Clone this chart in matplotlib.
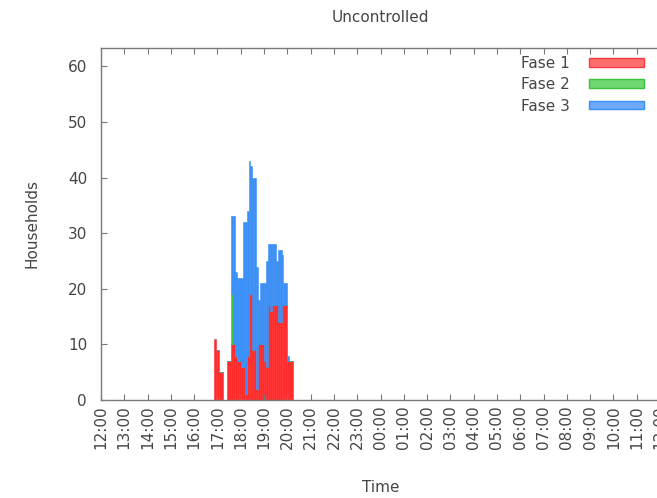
import matplotlib
matplotlib.use("Agg")
import matplotlib.pyplot as plt
from matplotlib.patches import Patch
import numpy as np

# Start of each 5-minute bin, as "HH:MM"
bin_starts = ["16:50", "16:55", "17:00", "17:05", "17:10", "17:15", "17:20",
              "17:25", "17:30", "17:35", "17:40", "17:45", "17:50", "17:55",
              "18:00", "18:05", "18:10", "18:15", "18:20", "18:25", "18:30",
              "18:35", "18:40", "18:45", "18:50", "18:55", "19:00", "19:05",
              "19:10", "19:15", "19:20", "19:25", "19:30", "19:35", "19:40",
              "19:45", "19:50", "19:55", "20:00", "20:05", "20:10"]

# Households charging per phase in each bin
fase1 = [11, 9, 9, 5, 5, 0, 0, 7, 7, 10, 10, 8, 7, 7, 6, 6, 1, 8, 19, 19, 9,
         9, 2, 10, 10, 10, 7, 6, 17, 16, 17, 17, 17, 14, 14, 17, 17, 17, 7, 7, 7]
fase2 = [0, 0, 0, 0, 0, 0, 0, 0, 0, 9, 0, 0, 0, 0, 0, 0, 0, 0, 0, 0, 0,
         0, 0, 0, 0, 0, 0, 0, 0, 0, 0, 0, 0, 0, 0, 0, 0, 0, 0, 0, 0]
fase3 = [0, 0, 0, 0, 0, 0, 0, 0, 0, 14, 23, 15, 15, 15, 16, 26, 31, 26, 24, 23, 31,
         31, 22, 8, 11, 11, 14, 19, 11, 12, 11, 11, 8, 13, 13, 9, 4, 4, 1, 0, 0]

series_names = ["Fase 1", "Fase 2", "Fase 3"]
hour_labels = ["12:00", "13:00", "14:00", "15:00", "16:00", "17:00", "18:00",
               "19:00", "20:00", "21:00", "22:00", "23:00", "00:00", "01:00",
               "02:00", "03:00", "04:00", "05:00", "06:00", "07:00", "08:00",
               "09:00", "10:00", "11:00", "12:00"]

BIN_MIN = 5


def minutes_since_noon(hhmm):
    h, m = (int(v) for v in hhmm.split(":"))
    t = h * 60 + m - 12 * 60
    return t if t >= 0 else t + 24 * 60


x = np.array([minutes_since_noon(s) for s in bin_starts], dtype=float)
f1 = np.array(fase1, dtype=float)
f2 = np.array(fase2, dtype=float)
f3 = np.array(fase3, dtype=float)

bar_colors = ["#ff2b2b", "#3fc43f", "#3a8ff7"]
key_faces = ["#ff6e6e", "#70d870", "#6eaaf9"]
key_edges = ["#ff3a3a", "#40c040", "#3b90f5"]
text_col = "#454545"
axis_col = "#7a7a7a"

plt.rcParams["font.family"] = "DejaVu Sans"

fig = plt.figure(figsize=(6.57, 4.98), dpi=100)
ax = fig.add_axes([101 / 657, 98 / 498, 559 / 657, 352 / 498])

ax.bar(x, f1, width=BIN_MIN, align="edge", color=bar_colors[0],
       edgecolor=bar_colors[0], linewidth=0.4)
ax.bar(x, f2, width=BIN_MIN, align="edge", bottom=f1, color=bar_colors[1],
       edgecolor=bar_colors[1], linewidth=0.4)
ax.bar(x, f3, width=BIN_MIN, align="edge", bottom=f1 + f2, color=bar_colors[2],
       edgecolor=bar_colors[2], linewidth=0.4)

ax.set_xlim(0, 24 * 60)
ax.set_ylim(0, 63.3)

ax.set_xticks(np.arange(len(hour_labels)) * 60)
ax.set_xticklabels(hour_labels, rotation=90, fontsize=11, color=text_col)
ax.set_yticks(np.arange(0, 61, 10))
ax.set_yticklabels([str(v) for v in range(0, 61, 10)], fontsize=11,
                   color=text_col)
ax.tick_params(axis="both", direction="in", length=4, width=0.8,
               color=axis_col, top=True, right=False)
ax.tick_params(axis="x", pad=4)
ax.tick_params(axis="y", pad=10)

for sp in ax.spines.values():
    sp.set_color(axis_col)
    sp.set_linewidth(1.0)
ax.spines["right"].set_visible(False)

ax.set_title("Uncontrolled", fontsize=11, color=text_col, pad=19)
ax.set_ylabel("Households", fontsize=11, color=text_col, labelpad=20)
ax.set_xlabel("Time", fontsize=11, color=text_col, labelpad=22)

handles = [Patch(facecolor=fc, edgecolor=ec, linewidth=1.0)
           for fc, ec in zip(key_faces, key_edges)]
leg = fig.legend(handles, series_names, loc="upper right",
                 bbox_to_anchor=(655 / 657, 1 - 45 / 498), frameon=False,
                 markerfirst=False, fontsize=11, handlelength=3.6,
                 handleheight=0.5, labelspacing=0.42, handletextpad=1.3,
                 borderpad=0.2)
for t in leg.get_texts():
    t.set_color(text_col)

fig.savefig("out.png", dpi=100, facecolor="white")
